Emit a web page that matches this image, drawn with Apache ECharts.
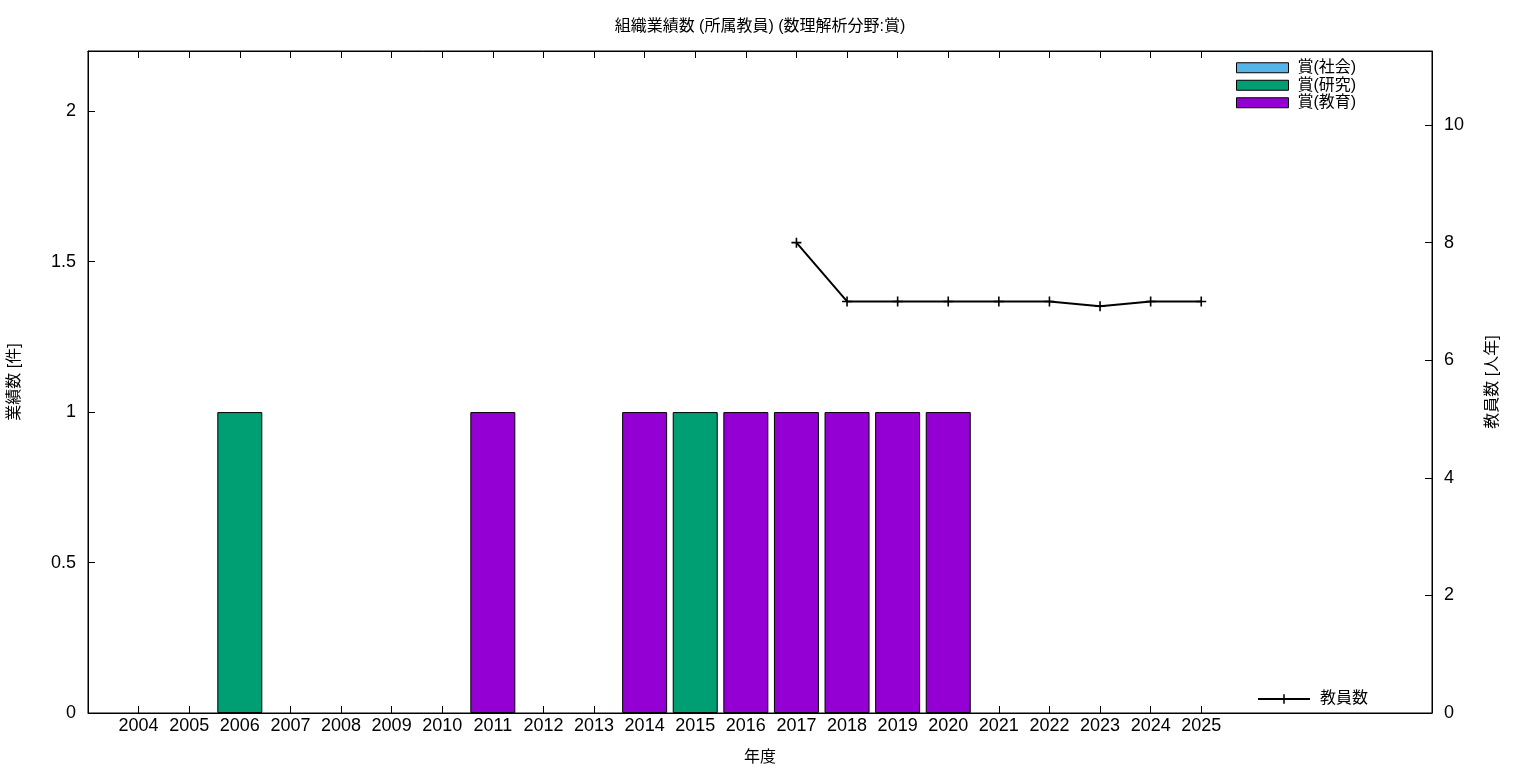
<!DOCTYPE html>
<html><head><meta charset="utf-8">
<script src="https://cdn.jsdelivr.net/npm/echarts@6/dist/echarts.min.js"></script>
<style>html,body{margin:0;padding:0;background:#fff}#c{width:1536px;height:768px}</style>
</head><body><div id="c"></div>
<script>
const years = [2004,2005,2006,2007,2008,2009,2010,2011,2012,2013,2014,2015,2016,2017,2018,2019,2020,2021,2022,2023,2024,2025];
const awardSociety   = [0,0,0,0,0,0,0,0,0,0,0,0,0,0,0,0,0,0,0,0,0,0];
const awardResearch  = [0,0,1,0,0,0,0,0,0,0,0,1,0,0,0,0,0,0,0,0,0,0];
const awardEducation = [0,0,0,0,0,0,0,1,0,0,1,0,1,1,1,1,1,0,0,0,0,0];
const staffYears = [2017,2018,2019,2020,2021,2022,2023,2024,2025];
const staffCount = [8,7,7,7,7,7,6.92,7,7];
const leftTicks = [0,0.5,1,1.5,2];
const rightTicks = [0,2,4,6,8,10];

const FONT = '"Liberation Sans","Noto Sans CJK JP",sans-serif';
const pair = (arr) => years.map((y,i)=>[y, arr[i]]).filter(p=>p[1]>0);
const plus = 'path://M-0.8,-5H0.8V-0.8H5V0.8H0.8V5H-0.8V0.8H-5V-0.8H-0.8Z';

const chart = echarts.init(document.getElementById('c'));
const barSeries = (name, arr, color) => ({
  name, type:'bar', stack:'a', xAxisIndex:0, yAxisIndex:0,
  data: pair(arr), barWidth:45,
  itemStyle:{color, borderColor:'#000', borderWidth:1},
  emphasis:{disabled:true}
});
const tickStyle = {color:'#000', width:1};
chart.setOption({
  animation:false,
  textStyle:{fontFamily:FONT},
  title:{text:'組織業績数 (所属教員) (数理解析分野:賞)', left:760, top:19, padding:0, textAlign:'center',
    textStyle:{fontSize:16, fontWeight:'normal', color:'#000', fontFamily:FONT}},
  grid:{left:88, right:104, top:51, bottom:55, outerBoundsMode:'none', containLabel:false,
    show:true, borderColor:'#000', borderWidth:1, backgroundColor:'transparent'},
  legend:[{
    data:['賞(社会)','賞(研究)','賞(教育)'], orient:'vertical', left:1236, top:59, padding:0,
    itemWidth:52, itemHeight:10, itemGap:0, icon:'rect',
    itemStyle:{borderWidth:1, borderColor:'#000'},
    textStyle:{fontSize:16, lineHeight:17.5, color:'#000', fontFamily:FONT, padding:[0,0,0,4]}
  },{
    data:['教員数'], orient:'vertical', left:1257, top:691, padding:0,
    itemWidth:52, itemHeight:12,
    textStyle:{fontSize:16, color:'#000', fontFamily:FONT, padding:[0,0,0,5]}
  }],
  xAxis:[{
    type:'value', min:2003, max:2029.56, interval:1, position:'bottom',
    name:'年度', nameLocation:'middle', nameGap:37, nameMoveOverlap:false,
    nameTextStyle:{fontSize:16, color:'#000', fontFamily:FONT},
    axisLine:{show:true, onZero:false, lineStyle:{color:'#000'}},
    axisTick:{show:true, inside:true, length:7, customValues:years, lineStyle:tickStyle},
    axisLabel:{customValues:years, fontSize:18, color:'#000', margin:4, fontFamily:FONT, formatter:v=>String(v)},
    splitLine:{show:false}
  },{
    type:'value', min:2003, max:2029.56, interval:1, position:'top',
    axisLine:{show:true, onZero:false, lineStyle:{color:'#000'}},
    axisTick:{show:true, inside:true, length:7, customValues:years, lineStyle:tickStyle},
    axisLabel:{show:false}, splitLine:{show:false}
  }],
  yAxis:[{
    type:'value', min:0, max:2.2, position:'left',
    name:'業績数 [件]', nameLocation:'middle', nameGap:65, nameRotate:90, nameMoveOverlap:false,
    nameTextStyle:{fontSize:16, color:'#000', fontFamily:FONT},
    axisLine:{show:true, onZero:false, lineStyle:{color:'#000'}},
    axisTick:{show:true, inside:true, length:7, customValues:leftTicks, lineStyle:tickStyle},
    axisLabel:{customValues:leftTicks, fontSize:18, color:'#000', margin:12, fontFamily:FONT},
    splitLine:{show:false}
  },{
    type:'value', min:0, max:11.26, position:'right',
    name:'教員数 [人年]', nameLocation:'middle', nameGap:53, nameRotate:90, nameMoveOverlap:false,
    nameTextStyle:{fontSize:16, color:'#000', fontFamily:FONT},
    axisLine:{show:true, onZero:false, lineStyle:{color:'#000'}},
    axisTick:{show:true, inside:true, length:7, customValues:rightTicks, lineStyle:tickStyle},
    axisLabel:{customValues:rightTicks, fontSize:18, color:'#000', margin:12, fontFamily:FONT},
    splitLine:{show:false}
  }],
  series:[
    barSeries('賞(社会)', awardSociety, '#56b4e9'),
    barSeries('賞(研究)', awardResearch, '#009e73'),
    barSeries('賞(教育)', awardEducation, '#9400d3'),
    {
      name:'教員数', type:'line', xAxisIndex:0, yAxisIndex:1,
      data: staffYears.map((y,i)=>[y, staffCount[i]]),
      symbol:plus, symbolSize:10, showAllSymbol:true,
      lineStyle:{color:'#000', width:2}, itemStyle:{color:'#000'},
      emphasis:{disabled:true}
    },
    {
      name:'_top', type:'line', xAxisIndex:1, yAxisIndex:0, data:[], silent:true
    }
  ]
});
</script></body></html>
